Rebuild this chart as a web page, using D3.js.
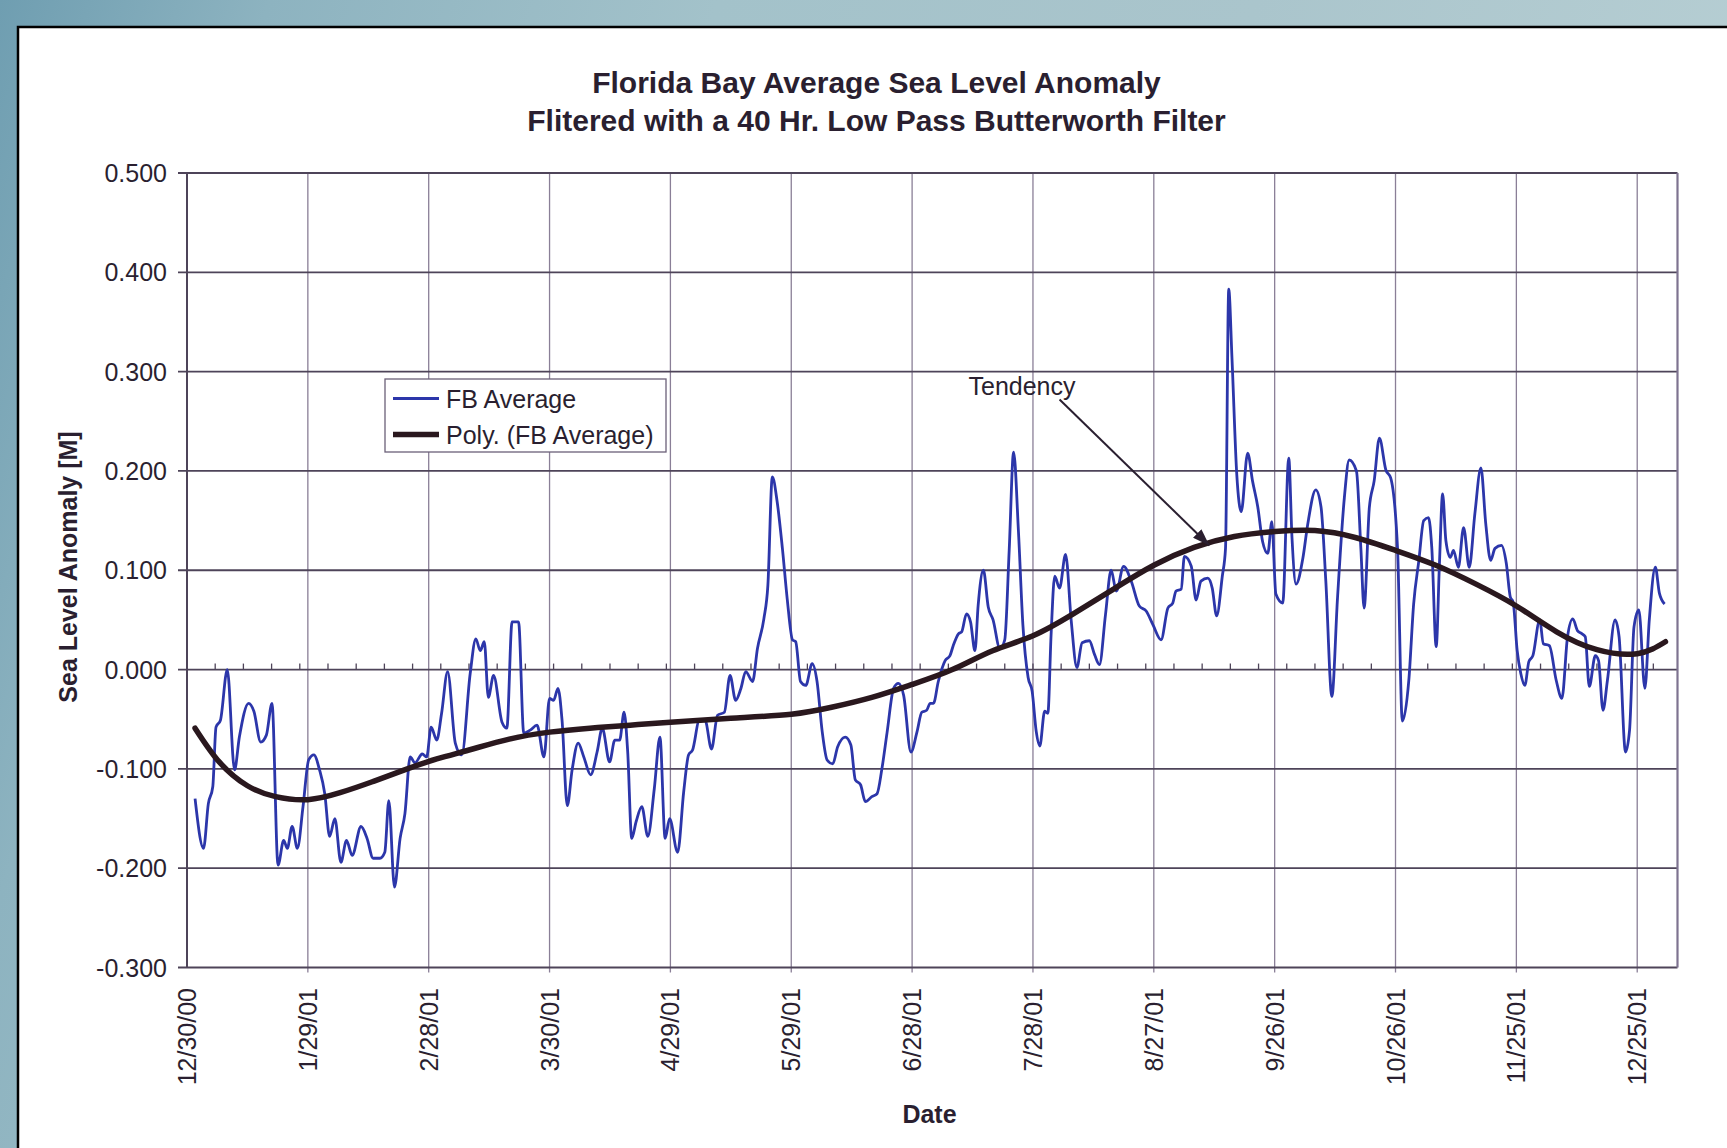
<!DOCTYPE HTML>
<html>
  <head>
    <script src="https://d3js.org/d3.v7.min.js"></script>
    <style>
      body, html {
        margin: 0;
        width: 100%;
        height: 100%;
        overflow: hidden;
      }
      text {
        font-family: 'Liberation Sans', Arial, sans-serif;
        fill: #2a1f30;
      }
      .title, .axis-title {
        font-weight: bold;
      }
      .grid-h {
        stroke: #4e4459;
        stroke-width: 1.8px;
      }
      .grid-v {
        stroke: #8a7f97;
        stroke-width: 1.3px;
      }
    </style>
  </head>
  <body>
    <svg id="chart"></svg>
    <script>
      // days after 12/30/00 and sea level anomaly [m]
      var dayOffset = [2.0, 4.1, 5.3, 6.4, 7.2, 8.3, 10.0, 11.8, 13.0, 15.3, 16.6, 18.3, 19.7, 21.1, 22.6, 24.0, 24.9, 26.1, 27.4, 28.8,
        30.2, 31.5, 32.9, 34.2, 35.4, 36.7, 38.2, 39.6, 41.0, 43.2, 44.7, 46.2, 47.9, 49.1, 50.1, 51.5, 52.9, 54.1, 55.4, 56.6,
        58.4, 59.5, 60.6, 62.0, 63.2, 64.7, 66.6, 68.2, 70.3, 71.7, 72.8, 73.8, 74.8, 76.1, 78.2, 79.4, 80.7, 82.3, 83.6, 85.2,
        86.9, 88.6, 90.0, 91.0, 92.1, 93.1, 94.4, 95.6, 97.1, 98.5, 100.2, 101.8, 103.1, 104.9, 106.2, 107.4, 108.5, 109.4, 110.4, 111.5,
        112.9, 114.4, 116.0, 117.4, 118.7, 119.8, 121.8, 123.3, 124.5, 125.5, 127.2, 128.6, 130.2, 131.7, 133.4, 134.8, 136.2, 137.5, 138.7, 140.4,
        141.6, 143.2, 144.2, 145.3, 146.5, 147.8, 149.0, 150.3, 151.1, 152.3, 153.6, 155.2, 156.4, 157.7, 158.9, 160.3, 161.5, 163.4, 164.8, 165.9,
        167.2, 168.4, 170.0, 171.3, 172.5, 173.8, 175.4, 176.6, 177.9, 179.7, 181.2, 182.4, 183.6, 184.5, 185.3, 186.5, 188.2, 189.4, 190.2, 191.5,
        192.3, 193.5, 194.5, 195.6, 196.4, 197.7, 198.9, 200.1, 201.8, 203.0, 204.1, 205.2, 206.4, 207.5, 208.8, 209.8, 210.8, 211.7, 212.9, 213.7,
        214.5, 215.4, 216.6, 218.1, 219.5, 220.9, 222.2, 224.0, 225.3, 226.5, 228.0, 229.4, 230.7, 232.5, 234.4, 236.4, 238.1, 239.8, 241.8, 243.5,
        244.7, 245.5, 246.8, 247.6, 249.3, 250.5, 251.7, 253.4, 254.5, 255.6, 257.0, 257.8, 258.6, 259.4, 260.6, 261.7, 263.3, 264.5, 265.8, 267.0,
        268.3, 269.3, 270.3, 272.0, 273.5, 274.3, 275.3, 277.0, 278.2, 280.2, 281.5, 282.7, 284.2, 285.6, 287.3, 288.5, 290.3, 291.4, 292.2, 293.5,
        294.7, 296.0, 297.6, 298.8, 300.5, 301.7, 303.3, 304.5, 305.8, 307.0, 308.2, 309.0, 310.1, 310.9, 311.7, 312.5, 313.6, 314.4, 315.6, 316.9,
        318.3, 319.7, 321.2, 322.4, 323.6, 324.7, 326.3, 327.5, 328.5, 329.2, 330.2, 331.1, 332.1, 333.1, 334.1, 335.8, 336.7, 338.2, 339.9, 341.3,
        342.7, 344.0, 345.2, 346.3, 347.1, 348.1, 349.6, 350.4, 351.5, 352.6, 354.5, 355.5, 357.1, 358.1, 359.2, 360.4, 361.9, 363.0, 364.5, 365.5, 366.8];
      var fbAverage = [-0.130, -0.180, -0.135, -0.118, -0.058, -0.051, 0.000, -0.101, -0.068, -0.034, -0.042, -0.073, -0.066, -0.034, -0.197, -0.172, -0.180, -0.158, -0.180, -0.138,
        -0.091, -0.086, -0.101, -0.125, -0.168, -0.150, -0.194, -0.172, -0.187, -0.158, -0.170, -0.190, -0.190, -0.184, -0.132, -0.219, -0.170, -0.145, -0.088, -0.094,
        -0.085, -0.088, -0.058, -0.071, -0.044, -0.002, -0.074, -0.086, -0.004, 0.031, 0.019, 0.028, -0.028, -0.006, -0.053, -0.059, 0.048, 0.048, -0.064, -0.061,
        -0.056, -0.088, -0.029, -0.031, -0.019, -0.051, -0.137, -0.101, -0.074, -0.088, -0.106, -0.083, -0.059, -0.093, -0.071, -0.071, -0.043, -0.083, -0.170, -0.153,
        -0.138, -0.168, -0.120, -0.068, -0.170, -0.150, -0.184, -0.123, -0.086, -0.081, -0.051, -0.051, -0.080, -0.046, -0.043, -0.006, -0.031, -0.019, -0.002, -0.012,
        0.021, 0.051, 0.085, 0.194, 0.169, 0.122, 0.071, 0.030, 0.028, -0.012, -0.016, 0.006, -0.012, -0.063, -0.091, -0.095, -0.078, -0.068, -0.076, -0.111,
        -0.116, -0.133, -0.128, -0.125, -0.100, -0.063, -0.019, -0.014, -0.026, -0.083, -0.063, -0.043, -0.041, -0.034, -0.034, -0.012, 0.009, 0.014, 0.024, 0.036,
        0.038, 0.056, 0.048, 0.019, 0.065, 0.100, 0.063, 0.050, 0.021, 0.030, 0.120, 0.219, 0.139, 0.045, -0.008, -0.022, -0.062, -0.077, -0.042, -0.044,
        0.035, 0.094, 0.082, 0.116, 0.049, 0.002, 0.027, 0.029, 0.015, 0.005, 0.055, 0.100, 0.079, 0.104, 0.089, 0.064, 0.059, 0.045, 0.030, 0.062,
        0.067, 0.079, 0.081, 0.114, 0.104, 0.070, 0.089, 0.092, 0.082, 0.054, 0.094, 0.122, 0.383, 0.314, 0.196, 0.159, 0.218, 0.190, 0.164, 0.129,
        0.117, 0.149, 0.076, 0.067, 0.213, 0.133, 0.086, 0.112, 0.146, 0.181, 0.164, 0.089, -0.027, 0.072, 0.173, 0.211, 0.200, 0.122, 0.062, 0.163,
        0.190, 0.233, 0.201, 0.193, 0.122, -0.052, -0.011, 0.066, 0.110, 0.150, 0.153, 0.123, 0.023, 0.106, 0.177, 0.130, 0.113, 0.120, 0.103, 0.143,
        0.103, 0.157, 0.203, 0.147, 0.110, 0.122, 0.125, 0.107, 0.073, 0.068, 0.019, -0.004, -0.016, 0.008, 0.014, 0.050, 0.026, 0.024, -0.011, -0.029,
        0.033, 0.051, 0.039, 0.036, 0.033, -0.017, 0.014, 0.009, -0.041, -0.011, 0.050, 0.033, -0.083, -0.061, 0.043, 0.060, -0.019, 0.050, 0.103, 0.077, 0.066];

      // polynomial trendline
      var trendDay = [2, 8, 15, 22, 30, 38, 46, 54, 62, 70, 80, 90, 100, 110, 120, 135, 150, 160, 170, 180,
        190, 200, 210, 220, 230, 240, 250, 260, 270, 280, 290, 300, 310, 320, 330, 340, 350, 360, 367];
      var trendValue = [-0.059, -0.093, -0.117, -0.128, -0.131, -0.124, -0.113, -0.101, -0.090, -0.081, -0.070, -0.063, -0.059, -0.056, -0.053, -0.049, -0.045, -0.038, -0.028, -0.015,
        0.000, 0.019, 0.034, 0.056, 0.081, 0.105, 0.123, 0.134, 0.139, 0.140, 0.133, 0.120, 0.105, 0.086, 0.064, 0.038, 0.020, 0.016, 0.028];

      var xTickLabels = ["12/30/00", "1/29/01", "2/28/01", "3/30/01", "4/29/01", "5/29/01", "6/28/01",
        "7/28/01", "8/27/01", "9/26/01", "10/26/01", "11/25/01", "12/25/01"];
      var yTicks = [0.5, 0.4, 0.3, 0.2, 0.1, 0.0, -0.1, -0.2, -0.3];
      var seriesNames = ["FB Average", "Poly. (FB Average)"];

      var W = 1727, H = 1148;
      var parse = d3.utcParse("%m/%d/%y");
      var start = parse("12/30/00");
      var end = d3.utcDay.offset(start, 370);
      var toDate = d => new Date(start.getTime() + d * 864e5);

      var x = d3.scaleUtc().domain([start, end]).range([187, 1677.5]);
      var y = d3.scaleLinear().domain([-0.3, 0.5]).range([967.5, 173]);

      var svg = d3.select("#chart")
        .attr("width", W)
        .attr("height", H);

      // slide background
      var defs = svg.append("defs");
      var bg = defs.append("linearGradient").attr("id", "bg")
        .attr("x1", 0).attr("y1", 0).attr("x2", 1).attr("y2", 0.2);
      [["0", "#6f9eb1"], ["0.15", "#8db3c0"], ["0.4", "#a3c2ca"], ["0.7", "#aac5cc"], ["1", "#b6ced3"]]
        .forEach(s => bg.append("stop").attr("offset", s[0]).attr("stop-color", s[1]));
      defs.append("marker").attr("id", "arrow")
        .attr("viewBox", "0 0 10 10").attr("refX", 10).attr("refY", 5)
        .attr("markerWidth", 17).attr("markerHeight", 12)
        .attr("markerUnits", "userSpaceOnUse")
        .attr("orient", "auto")
        .attr("preserveAspectRatio", "none")
        .append("path").attr("d", "M0,0 L10,5 L0,10 z").attr("fill", "#2a1f30");

      svg.append("rect").attr("width", W).attr("height", H).attr("fill", "url(#bg)");
      svg.append("rect")
        .attr("x", 18).attr("y", 27).attr("width", W).attr("height", H)
        .attr("fill", "white").attr("stroke", "black").attr("stroke-width", 2.5);

      // title
      svg.append("g").selectAll("text")
        .data(["Florida Bay Average Sea Level Anomaly", "Flitered with a 40 Hr. Low Pass Butterworth Filter"])
        .enter()
        .append("text")
          .attr("class", "title")
          .attr("x", 876.5)
          .attr("y", (d, i) => 93 + i * 37.5)
          .attr("text-anchor", "middle")
          .style("font-size", "30px")
          .text(d => d);

      // grid
      var xTicks = xTickLabels.map(parse);
      svg.append("g").selectAll("line")
        .data(xTicks.slice(1))
        .enter()
        .append("line")
          .attr("class", "grid-v")
          .attr("x1", d => x(d)).attr("x2", d => x(d))
          .attr("y1", y(0.5)).attr("y2", y(-0.3) + 5);
      svg.append("g").selectAll("line")
        .data(yTicks)
        .enter()
        .append("line")
          .attr("class", "grid-h")
          .attr("x1", x(start) - 9).attr("x2", x(end))
          .attr("y1", d => y(d)).attr("y2", d => y(d));
      svg.append("line")
        .attr("x1", x(end)).attr("x2", x(end))
        .attr("y1", y(0.5)).attr("y2", y(-0.3))
        .attr("stroke", "#7e7390").attr("stroke-width", 2.2);
      svg.append("line")
        .attr("x1", x(start)).attr("x2", x(start))
        .attr("y1", y(0.5)).attr("y2", y(-0.3))
        .attr("stroke", "#4e4459").attr("stroke-width", 2);

      // weekly minor ticks on the zero line
      var weeks = d3.range(7, 370, 7).map(toDate);
      svg.append("g").selectAll("line")
        .data(weeks)
        .enter()
        .append("line")
          .attr("x1", d => x(d)).attr("x2", d => x(d))
          .attr("y1", y(0)).attr("y2", y(0) - 6)
          .attr("stroke", "#4e4459").attr("stroke-width", 1.3);

      // axis labels
      svg.append("g").selectAll("text")
        .data(yTicks)
        .enter()
        .append("text")
          .attr("x", 167)
          .attr("y", d => y(d))
          .attr("dy", "0.36em")
          .attr("text-anchor", "end")
          .style("font-size", "25px")
          .text(d => d3.format(".3f")(d).replace("−", "-"));
      svg.append("g").selectAll("text")
        .data(xTicks)
        .enter()
        .append("text")
          .attr("transform", d => "translate(" + x(d) + ",988) rotate(-90)")
          .attr("dy", "0.36em")
          .attr("text-anchor", "end")
          .style("font-size", "25px")
          .text((d, i) => xTickLabels[i]);
      svg.append("text")
        .attr("class", "axis-title")
        .attr("transform", "translate(68,567) rotate(-90)")
        .attr("dy", "0.36em")
        .attr("text-anchor", "middle")
        .style("font-size", "25px")
        .text("Sea Level Anomaly [M]");
      svg.append("text")
        .attr("class", "axis-title")
        .attr("x", 929.5).attr("y", 1113.5)
        .attr("dy", "0.36em")
        .attr("text-anchor", "middle")
        .style("font-size", "25px")
        .text("Date");

      // series
      var series = dayOffset.map((d, i) => ({date: toDate(d), value: fbAverage[i]}));
      var trend = trendDay.map((d, i) => ({date: toDate(d), value: trendValue[i]}));
      var line = d3.line()
        .x(d => x(d.date))
        .y(d => y(d.value));

      svg.append("path")
        .datum(series)
        .attr("fill", "none")
        .attr("stroke", "#2c36aa")
        .attr("stroke-width", 2.8)
        .attr("stroke-linejoin", "round")
        .attr("d", line.curve(d3.curveMonotoneX));
      svg.append("path")
        .datum(trend)
        .attr("fill", "none")
        .attr("stroke", "#2a181e")
        .attr("stroke-width", 5.5)
        .attr("stroke-linecap", "round")
        .attr("d", line.curve(d3.curveNatural));

      // annotation
      svg.append("text")
        .attr("x", x(toDate(194))).attr("y", y(0.286))
        .attr("dy", "0.36em")
        .style("font-size", "25px")
        .text("Tendency");
      svg.append("line")
        .attr("x1", x(toDate(216.6))).attr("y1", y(0.272))
        .attr("x2", x(toDate(253.8))).attr("y2", y(0.125))
        .attr("stroke", "#2a1f30").attr("stroke-width", 2)
        .attr("marker-end", "url(#arrow)");

      // legend
      var legend = svg.append("g").attr("transform", "translate(385,379)");
      legend.append("rect")
        .attr("width", 281).attr("height", 73)
        .attr("fill", "white").attr("stroke", "#6b6078").attr("stroke-width", 1.3);
      var rows = legend.selectAll("g")
        .data(seriesNames)
        .enter()
        .append("g")
          .attr("transform", (d, i) => "translate(0," + (19.5 + i * 36) + ")");
      rows.append("line")
        .attr("x1", 8).attr("x2", 54)
        .attr("stroke", (d, i) => i ? "#2a181e" : "#2c36aa")
        .attr("stroke-width", (d, i) => i ? 5.5 : 2.8);
      rows.append("text")
        .attr("x", 61)
        .attr("dy", "0.36em")
        .style("font-size", "25px")
        .text(d => d);
    </script>
  </body>
</html>
